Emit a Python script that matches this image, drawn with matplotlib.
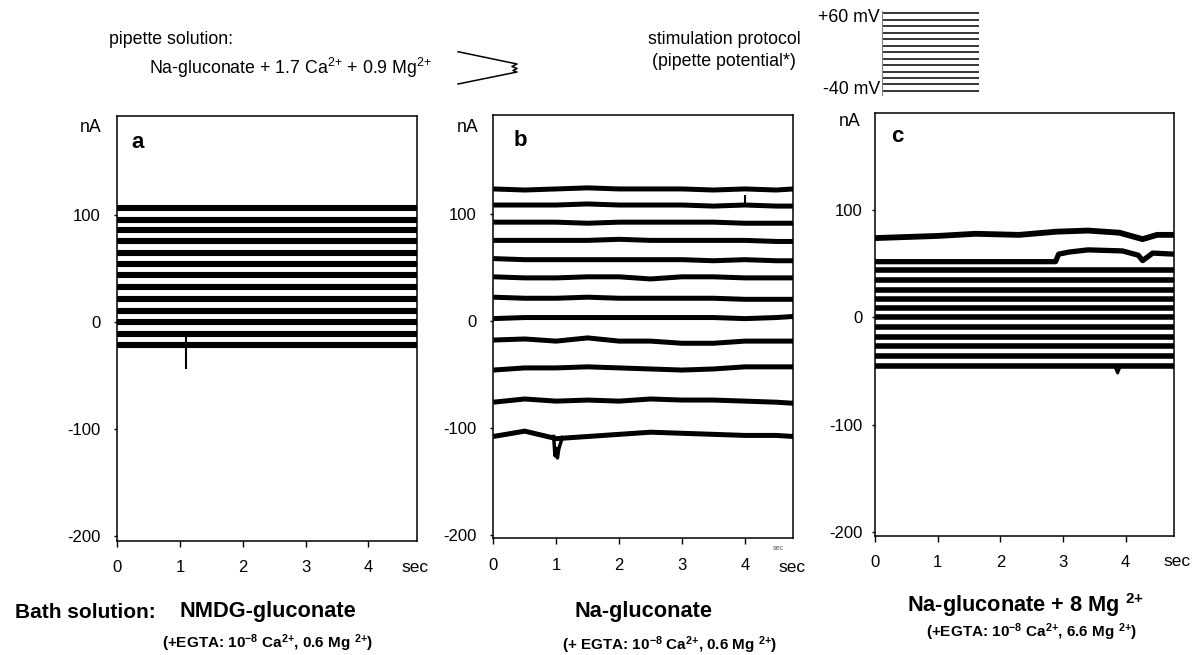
import matplotlib
matplotlib.use('Agg')
import matplotlib.pyplot as plt
from matplotlib.lines import Line2D

plt.rcParams['font.family'] = ['Liberation Sans', 'DejaVu Sans']
plt.rcParams['mathtext.fontset'] = 'custom'
plt.rcParams['mathtext.rm'] = 'Liberation Sans'
plt.rcParams['mathtext.it'] = 'Liberation Sans:italic'
plt.rcParams['mathtext.bf'] = 'Liberation Sans:bold'
plt.rcParams['axes.unicode_minus'] = False

W, H = 1195, 655

# ---- data ----
t_end = 4.77
x_ticks = [0, 1, 2, 3, 4]
y_ticks = [-200, -100, 0, 100]

# stimulation protocol, pipette potential steps (mV)
protocol_mv = [60, 51, 44, 35, 27, 18, 10, 1, -7, -16, -24, -32, -40]

# panel a: NMDG-gluconate, 13 sweeps (nA)
a_levels = [107, 96, 86, 76, 65, 55, 44, 33, 22, 11, 0, -11, -21]
a_spike_t = [1.09, 1.09]
a_spike_v = [-11, -43]

# panel b: Na-gluconate, 12 sweeps sampled every 0.5 s (nA)
b_t = [0, 0.5, 1.0, 1.5, 2.0, 2.5, 3.0, 3.5, 4.0, 4.5, 4.77]
b_sweeps = [
    [123, 122, 123, 124, 123, 123, 123, 122, 123, 122, 123],
    [108, 108, 108, 109, 108, 108, 108, 107, 108, 107, 107],
    [92, 92, 92, 91, 92, 92, 92, 92, 91, 91, 91],
    [75, 75, 75, 75, 76, 75, 75, 75, 75, 74, 74],
    [58, 57, 57, 57, 57, 57, 57, 56, 57, 56, 56],
    [41, 40, 40, 41, 41, 39, 41, 41, 40, 40, 40],
    [22, 21, 21, 22, 21, 21, 21, 21, 20, 20, 20],
    [2, 3, 3, 3, 3, 3, 3, 3, 2, 3, 4],
    [-18, -17, -19, -16, -19, -19, -21, -21, -19, -19, -19],
    [-46, -44, -44, -43, -44, -45, -46, -45, -43, -43, -43],
    [-76, -73, -75, -74, -75, -73, -74, -74, -75, -76, -77],
    [-108, -103, -110, -108, -106, -104, -105, -106, -107, -107, -108],
]
b_up_t = [4.0, 4.0]
b_up_v = [108, 116]
b_down_t = [0.96, 0.98, 1.0, 1.02, 1.04, 1.07, 1.1]
b_down_v = [-108, -126, -119, -128, -120, -114, -109]

# panel c: Na-gluconate + 8 Mg, 13 sweeps (nA)
c_levels = [44, 35, 26, 17, 9, 0, -9, -18, -27, -36, -45]
c_top_t = [0, 1.0, 1.6, 2.3, 2.9, 3.4, 3.9, 4.27, 4.5, 4.77]
c_top_v = [74, 76, 78, 77, 80, 81, 79, 73, 77, 77]
c_step_t = [0, 2.88, 2.93, 3.1, 3.4, 3.95, 4.2, 4.27, 4.43, 4.77]
c_step_v = [52, 52, 59, 61, 63, 62, 58, 53, 60, 59]
c_dip_t = [3.82, 3.87, 3.92]
c_dip_v = [-45, -52, -45]

fig = plt.figure(figsize=(W / 100, H / 100), dpi=100)


def ftext(x, y, s, **kw):
    kw.setdefault('va', 'center')
    fig.text(x / W, 1 - y / H, s, **kw)


def make_axes(left, top, right, bottom, ylim):
    ax = fig.add_axes([left / W, 1 - bottom / H, (right - left) / W, (bottom - top) / H])
    ax.set_xlim(0, t_end)
    ax.set_ylim(*ylim)
    ax.set_xticks(x_ticks)
    ax.set_yticks(y_ticks)
    ax.tick_params(axis='x', direction='out', length=4, width=1, labelsize=12, pad=10)
    ax.tick_params(axis='y', direction='out', length=2, width=1, labelsize=12, pad=10)
    for s in ax.spines.values():
        s.set_linewidth(1.1)
    return ax


# panel a
ax_a = make_axes(117.3, 116, 416.7, 540.7, (-204, 193))
for lev in a_levels:
    ax_a.plot([0, t_end], [lev, lev], color='black', lw=4.4, solid_capstyle='butt')
ax_a.plot(a_spike_t, a_spike_v, color='black', lw=1.5)

# panel b
ax_b = make_axes(493.3, 115, 793.3, 538.3, (-203, 192))
for sweep in b_sweeps:
    ax_b.plot(b_t, sweep, color='black', lw=3.6, solid_capstyle='butt')
ax_b.plot(b_up_t, b_up_v, color='black', lw=1.5)
ax_b.plot(b_down_t, b_down_v, color='black', lw=2.5)

# panel c
ax_c = make_axes(875, 112.7, 1174, 536, (-204, 191))
ax_c.tick_params(axis='y', pad=7)
for lev in c_levels:
    ax_c.plot([0, t_end], [lev, lev], color='black', lw=4.0, solid_capstyle='butt')
ax_c.plot(c_top_t, c_top_v, color='black', lw=4.2, solid_capstyle='butt')
ax_c.plot(c_step_t, c_step_v, color='black', lw=3.8, solid_capstyle='butt')
ax_c.plot(c_dip_t, c_dip_v, color='black', lw=2.0)

# stimulation protocol sketch
ax_p = fig.add_axes([882 / W, 1 - 93 / H, 97 / W, 83 / H])
for mv in protocol_mv:
    ax_p.plot([0, 1], [mv, mv], color='black', lw=1.1)
ax_p.set_xlim(0, 1)
ax_p.set_ylim(-43, 64.3)
ax_p.axis('off')
fig.add_artist(Line2D([882 / W, 882 / W], [1 - 11 / H, 1 - 95 / H], color='gray', lw=0.8))

# texts
ftext(109, 40, 'pipette solution:', fontsize=12.8)
ftext(149, 68, 'Na-gluconate + 1.7 Ca$^{2{+}}$ + 0.9 Mg$^{2{+}}$', fontsize=12.8)
bx = [458, 517, 512, 517, 513, 517, 458]
by = [51.7, 64, 66.5, 68.5, 70.5, 72, 84]
fig.add_artist(Line2D([x / W for x in bx], [1 - y / H for y in by], color='black', lw=1.1))

ftext(724, 40, 'stimulation protocol', fontsize=12.8, ha='center')
ftext(724, 62, '(pipette potential*)', fontsize=12.8, ha='center')
ftext(880, 17, '+60 mV', fontsize=12.8, ha='right')
ftext(880, 90, '-40 mV', fontsize=12.8, ha='right')

for x, y in [(91, 127), (468, 128), (850, 122)]:
    ftext(x, y, 'nA', fontsize=12.8, ha='center')
for x, y, s in [(138, 142, 'a'), (520, 140, 'b'), (897, 137, 'c')]:
    ftext(x, y, s, fontsize=16, fontweight='bold', ha='center')
for x, y in [(415, 567), (792, 567), (1177, 562)]:
    ftext(x, y, 'sec', fontsize=12.5, ha='center')
ftext(778, 548, 'sec', fontsize=5, ha='center', color='#555555')

sup28 = '10$^{\\mathbf{{-}8}}$'
sup2p = '$^{\\mathbf{2{+}}}$'
ftext(15, 612, 'Bath solution:', fontsize=15, fontweight='bold')
ftext(268, 612, 'NMDG-gluconate', fontsize=15.7, fontweight='bold', ha='center')
ftext(268, 643, '(+EGTA: ' + sup28 + ' Ca' + sup2p + ', 0.6 Mg ' + sup2p + ')',
      fontsize=11, fontweight='bold', ha='center')
ftext(643, 612, 'Na-gluconate', fontsize=15.7, fontweight='bold', ha='center')
ftext(670, 645, '(+ EGTA: ' + sup28 + ' Ca' + sup2p + ', 0.6 Mg ' + sup2p + ')',
      fontsize=11, fontweight='bold', ha='center')
ftext(1026, 605, 'Na-gluconate + 8 Mg ' + sup2p, fontsize=15.7, fontweight='bold', ha='center')
ftext(1032, 632, '(+EGTA: ' + sup28 + ' Ca' + sup2p + ', 6.6 Mg ' + sup2p + ')',
      fontsize=11, fontweight='bold', ha='center')

fig.savefig('out.png', dpi=100)
